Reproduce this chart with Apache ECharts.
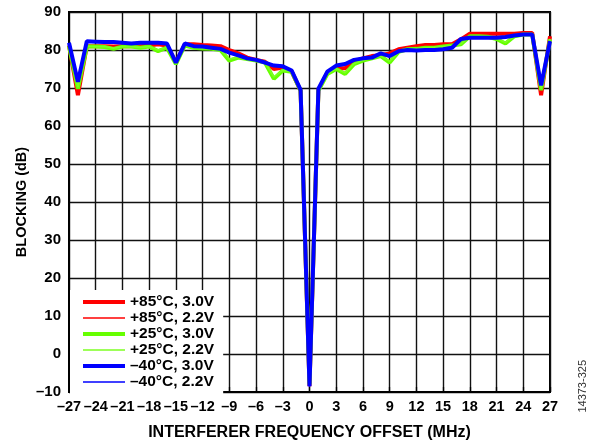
<!DOCTYPE html>
<html>
<head>
<meta charset="utf-8">
<script src="https://cdn.jsdelivr.net/npm/echarts@6/dist/echarts.min.js"></script>
<style>
html,body{margin:0;padding:0;background:#fff;}
#chart{width:592px;height:446px;}
</style>
</head>
<body>
<div id="chart"></div>
<script>
// Frequency offsets (MHz)
const offsets = [-27,-26,-25,-24,-23,-22,-21,-20,-19,-18,-17,-16,-15,-14,-13,-12,-11,-10,-9,-8,-7,-6,-5,-4,-3,-2,-1,0,1,2,3,4,5,6,7,8,9,10,11,12,13,14,15,16,17,18,19,20,21,22,23,24,25,26,27];

const seriesNames = ['+85°C, 3.0V','+85°C, 2.2V','+25°C, 3.0V','+25°C, 2.2V','–40°C, 3.0V','–40°C, 2.2V'];

const red30 = [81.2,68.1,81.0,81.0,81.0,80.9,81.0,81.0,81.0,81.2,81.5,81.2,76.7,81.5,81.5,81.3,81.2,81.0,80.0,79.1,78.0,77.4,76.9,75.0,75.4,74.3,69.3,-8.5,69.5,74.0,75.2,75.2,77.0,77.8,78.4,78.6,79.1,80.2,80.6,81.0,81.3,81.3,81.5,81.5,82.8,84.3,84.3,84.3,84.3,84.3,84.3,84.5,84.5,68.1,83.6];
const red22 = [81.3,68.6,81.1,81.1,81.0,81.0,81.1,81.0,81.1,81.3,81.4,81.2,76.8,81.5,81.4,81.3,81.2,81.0,80.1,79.2,78.1,77.5,76.9,75.2,75.4,74.4,69.4,-8.4,69.6,74.1,75.3,75.4,77.0,77.8,78.3,78.7,79.0,80.1,80.6,80.9,81.2,81.3,81.4,81.5,82.9,84.2,84.3,84.2,84.3,84.3,84.2,84.4,84.5,68.5,83.5];
const grn30 = [81.0,69.8,80.9,80.9,80.8,80.3,80.9,80.9,80.6,80.9,79.7,80.6,76.3,81.2,80.6,80.4,80.3,80.0,77.2,78.0,77.6,77.2,76.7,72.4,74.6,74.3,69.3,-8.0,69.3,73.7,75.0,73.7,76.3,77.2,77.8,78.4,76.7,79.5,80.2,80.3,80.6,80.6,80.9,81.2,81.5,83.6,83.6,83.5,82.9,81.7,83.6,84.1,84.1,69.4,82.8];
const grn22 = [81.1,70.2,81.0,80.9,80.9,80.5,80.9,80.9,80.7,80.9,80.0,80.7,76.4,81.2,80.7,80.5,80.4,80.1,77.6,78.1,77.6,77.3,76.7,72.9,74.7,74.3,69.4,-8.1,69.4,73.8,75.1,74.0,76.4,77.3,77.8,78.4,77.0,79.5,80.2,80.3,80.6,80.7,80.9,81.2,81.6,83.5,83.6,83.5,83.0,82.0,83.6,84.0,84.1,69.8,82.9];
const blu30 = [81.9,71.6,82.3,82.2,82.1,82.1,81.9,81.7,81.9,81.9,81.9,81.7,76.7,81.7,81.0,80.9,80.6,80.3,79.3,78.6,77.8,77.4,76.7,75.9,75.7,74.6,69.5,-8.5,69.8,74.3,75.9,76.3,77.4,77.8,78.0,79.1,78.4,79.7,80.0,79.9,80.0,80.0,80.2,80.6,82.9,83.2,83.2,83.2,83.2,83.4,83.8,84.1,84.1,70.7,82.3];
const blu22 = [81.8,71.9,82.2,82.1,82.0,82.0,81.9,81.8,81.9,81.8,81.8,81.6,76.9,81.6,81.0,80.8,80.5,80.3,79.2,78.5,77.8,77.3,76.8,75.8,75.6,74.5,69.6,-8.6,69.7,74.2,75.8,76.2,77.3,77.7,78.1,79.0,78.5,79.6,80.0,79.9,80.1,80.0,80.3,80.5,82.8,83.1,83.2,83.1,83.2,83.3,83.7,84.0,84.1,71.0,82.4];

const xTicks = {min:-27, max:27, interval:3};
const yTicks = {min:-10, max:90, interval:10};

const values = [red30, red22, grn30, grn22, blu30, blu22];
const colors = ['#ff0000','#ff0000','#66ff00','#7dff22','#0000ff','#0000ff'];
const widths = [4,1.6,4,1.6,4,1.6];

const chart = echarts.init(document.getElementById('chart'), null, {renderer:'canvas'});
const FONT = '"Liberation Sans", Arial, Helvetica, sans-serif';
const fmt = v => String(v).replace('-', '\u2013');

chart.setOption({
  animation:false,
  backgroundColor:'#fff',
  grid:{left:69, right:42, top:12, bottom:53, show:true, borderColor:'#000', borderWidth:2, backgroundColor:'transparent'},
  xAxis:{
    type:'value', min:xTicks.min, max:xTicks.max, interval:xTicks.interval,
    name:'INTERFERER FREQUENCY OFFSET (MHz)', nameLocation:'middle', nameGap:33,
    nameTextStyle:{fontFamily:FONT, fontWeight:'bold', fontSize:16, color:'#000'},
    axisLine:{show:true, onZero:false, lineStyle:{color:'#000', width:2}},
    axisTick:{show:true, inside:true, length:5, lineStyle:{color:'#000', width:1.3}},
    axisLabel:{fontFamily:FONT, fontWeight:'bold', fontSize:14.5, color:'#000', margin:7, formatter:fmt, showMinLabel:true, showMaxLabel:true},
    splitLine:{show:true, lineStyle:{color:'#111', width:1.4}}
  },
  yAxis:{
    type:'value', min:yTicks.min, max:yTicks.max, interval:yTicks.interval,
    name:'BLOCKING (dB)', nameLocation:'middle', nameGap:40, nameMoveOverlap:false,
    nameTextStyle:{fontFamily:FONT, fontWeight:'bold', fontSize:14.5, color:'#000'},
    axisLine:{show:true, onZero:false, lineStyle:{color:'#000', width:2}},
    axisTick:{show:false},
    axisLabel:{fontFamily:FONT, fontWeight:'bold', fontSize:15, color:'#000', margin:8, formatter:fmt},
    splitLine:{show:true, lineStyle:{color:'#111', width:1.4}}
  },
  legend:{
    orient:'vertical', left:70, top:290,
    padding:[4,9,4,11], backgroundColor:'#fff',
    itemWidth:42, itemHeight:14, itemGap:0,
    itemStyle:{color:'transparent', borderWidth:0, opacity:0},
    textStyle:{fontFamily:FONT, fontWeight:'bold', fontSize:15.5, color:'#000', lineHeight:14},
    data:seriesNames.map((n,i)=>({name:n, lineStyle:{width:widths[i], color:colors[i]}}))
  },
  graphic:[{
    type:'text', left:577, top:360, rotation:Math.PI/2, originX:0, originY:0,
    style:{text:'14373-325', fontFamily:FONT, fontSize:11, fill:'#333'}
  }],
  series: seriesNames.map((n,i)=>({
    name:n, type:'line', symbol:'none', showSymbol:false,
    data: offsets.map((x,k)=>[x, values[i][k]]),
    lineStyle:{color:colors[i], width:widths[i]},
    itemStyle:{color:colors[i]},
    z: 2+i
  }))
});
</script>
</body>
</html>
